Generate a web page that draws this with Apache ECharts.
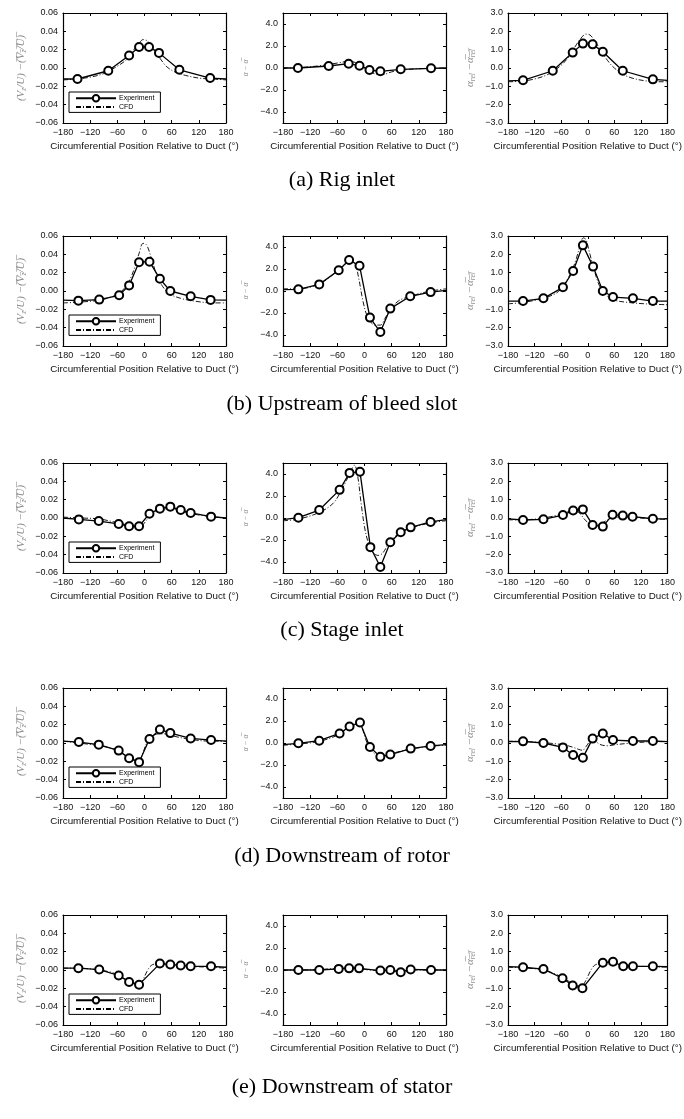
<!DOCTYPE html>
<html>
<head>
<meta charset="utf-8">
<script src="https://cdn.jsdelivr.net/npm/echarts@6/dist/echarts.min.js"></script>
<style>
  html, body { margin: 0; padding: 0; background: #fff; }
  #chart { width: 684px; height: 1119px; }
</style>
</head>
<body>
<div id="chart"></div>
<script>
// Circumferential distortion profiles, five axial stations x three quantities.
// Each experiment array holds [angle (deg), value]; entries at +/-180 are the
// wrap-around ends of the line and carry no marker.

const captions = ['(a) Rig inlet', '(b) Upstream of bleed slot', '(c) Stage inlet',
                  '(d) Downstream of rotor', '(e) Downstream of stator'];
const xTicks = [-180, -120, -60, 0, 60, 120, 180];
const alphaTicks = [-4, -2, 0, 2, 4];

// (a) Rig inlet
const expA_vz = [[-180,-0.012],[-148,-0.012],[-80,-0.003],[-34,0.0136],[-12,0.023],[10,0.023],[32,0.0165],[77,-0.002],[145,-0.011],[180,-0.012]];
const cfdA_vz = [[-180,-0.013],[-150,-0.012],[-120,-0.010],[-90,-0.006],[-60,0.002],[-40,0.009],[-25,0.019],[-12,0.027],[-3,0.031],[8,0.029],[20,0.021],[35,0.010],[50,0.001],[70,-0.005],[90,-0.008],[120,-0.011],[150,-0.012],[180,-0.013]];
const expA_al = [[-180,0.0],[-147,0.0],[-79,0.18],[-35,0.39],[-11,0.21],[11,-0.18],[35,-0.3],[80,-0.12],[147,-0.03],[180,0.0]];
const cfdA_al = [[-180,0.0],[-140,0.05],[-100,0.2],[-60,0.45],[-35,0.6],[-20,0.5],[-5,0.2],[10,-0.25],[25,-0.55],[40,-0.6],[60,-0.35],[90,-0.15],[130,-0.05],[180,0.0]];
const expA_ar = [[-180,-0.7],[-146,-0.67],[-79,-0.15],[-34,0.84],[-11,1.33],[11,1.29],[34,0.89],[79,-0.15],[147,-0.62],[180,-0.68]];
const cfdA_ar = [[-180,-0.75],[-150,-0.72],[-120,-0.6],[-90,-0.35],[-60,0.15],[-40,0.7],[-25,1.3],[-12,1.72],[-5,1.85],[5,1.8],[15,1.5],[30,0.95],[45,0.4],[60,0.0],[80,-0.35],[100,-0.55],[130,-0.7],[160,-0.75],[180,-0.75]];

// (b) Upstream of bleed slot
const expB_vz = [[-180,-0.010],[-146,-0.0105],[-100,-0.0094],[-56,-0.0047],[-34,0.0061],[-12,0.0314],[11,0.032],[34,0.0133],[57,0.0],[102,-0.0058],[146,-0.0097],[180,-0.010]];
const cfdB_vz = [[-180,-0.013],[-140,-0.012],[-100,-0.010],[-70,-0.006],[-50,0.0],[-35,0.01],[-22,0.025],[-12,0.041],[-3,0.052],[5,0.050],[15,0.036],[28,0.016],[40,0.005],[55,-0.003],[80,-0.008],[110,-0.011],[150,-0.013],[180,-0.013]];
const expB_al = [[-180,0.12],[-146,0.15],[-100,0.6],[-57,1.88],[-34,2.82],[-11,2.3],[12,-2.42],[35,-3.73],[57,-1.6],[101,-0.48],[146,-0.1],[180,0.05]];
const cfdB_al = [[-180,0.2],[-146,0.2],[-100,0.65],[-60,1.8],[-40,2.5],[-28,2.75],[-20,2.4],[-12,1.0],[-4,-0.8],[5,-2.2],[15,-2.9],[25,-3.1],[35,-3.1],[45,-2.5],[57,-1.7],[75,-0.9],[100,-0.5],[140,-0.05],[180,0.2]];
const expB_ar = [[-180,-0.55],[-146,-0.55],[-100,-0.4],[-56,0.2],[-33,1.09],[-11,2.49],[12,1.33],[34,0.0],[57,-0.33],[102,-0.4],[147,-0.55],[180,-0.55]];
const cfdB_ar = [[-180,-0.7],[-146,-0.62],[-100,-0.4],[-70,-0.1],[-56,0.25],[-40,0.9],[-28,1.6],[-18,2.4],[-10,2.9],[-4,2.8],[5,2.0],[15,1.1],[28,0.2],[45,-0.3],[60,-0.5],[90,-0.62],[130,-0.7],[180,-0.75]];

// (c) Stage inlet
const expC_vz = [[-180,0.0],[-145,-0.0015],[-101,-0.0033],[-57,-0.0065],[-34,-0.009],[-12,-0.009],[11,0.0047],[34,0.0102],[57,0.0124],[80,0.0087],[102,0.0055],[147,0.0015],[180,0.0]];
const cfdC_vz = [[-180,0.001],[-140,0.0],[-100,-0.001],[-70,-0.004],[-50,-0.006],[-30,-0.009],[-15,-0.010],[-5,-0.008],[5,-0.002],[15,0.004],[30,0.008],[50,0.010],[70,0.009],[100,0.005],[140,0.002],[180,0.0]];
const expC_al = [[-180,-0.15],[-146,0.03],[-100,0.72],[-55,2.56],[-33,4.1],[-10,4.2],[13,-2.65],[35,-4.45],[57,-2.2],[80,-1.3],[102,-0.85],[146,-0.36],[180,-0.15]];
const cfdC_al = [[-180,-0.25],[-146,-0.1],[-100,0.5],[-70,1.3],[-55,2.2],[-40,3.4],[-30,4.3],[-22,4.8],[-15,3.8],[-8,1.5],[0,-0.8],[8,-2.2],[18,-3.1],[30,-3.4],[40,-3.2],[57,-2.1],[80,-1.3],[102,-0.9],[146,-0.45],[180,-0.25]];
const expC_ar = [[-180,-0.05],[-146,-0.11],[-100,-0.07],[-56,0.16],[-33,0.41],[-11,0.47],[11,-0.38],[34,-0.47],[56,0.18],[79,0.13],[101,0.07],[147,-0.04],[180,-0.05]];
const cfdC_ar = [[-180,-0.1],[-146,-0.1],[-100,0.0],[-70,0.15],[-50,0.3],[-33,0.4],[-20,0.3],[-8,-0.05],[3,-0.3],[15,-0.38],[30,-0.3],[45,-0.1],[60,0.05],[85,0.05],[120,0.0],[150,-0.05],[180,-0.08]];

// (d) Downstream of rotor
const expD_vz = [[-180,0.002],[-145,0.001],[-101,-0.0018],[-57,-0.0083],[-34,-0.0166],[-12,-0.0209],[11,0.0043],[34,0.0148],[57,0.0108],[102,0.005],[147,0.0032],[180,0.002]];
const cfdD_vz = [[-180,0.002],[-145,0.0],[-100,-0.003],[-70,-0.006],[-57,-0.009],[-40,-0.014],[-25,-0.018],[-12,-0.019],[-3,-0.01],[5,0.0],[15,0.006],[30,0.010],[45,0.010],[60,0.008],[100,0.004],[147,0.002],[180,0.002]];
const expD_al = [[-180,-0.15],[-146,-0.03],[-100,0.21],[-55,0.87],[-33,1.5],[-10,1.86],[12,-0.36],[35,-1.26],[57,-1.05],[102,-0.51],[146,-0.27],[180,-0.15]];
const cfdD_al = [[-180,-0.2],[-146,-0.1],[-100,0.15],[-60,0.7],[-40,1.25],[-25,1.7],[-14,2.0],[-6,1.5],[2,0.4],[12,-0.5],[25,-1.05],[38,-1.2],[55,-1.0],[80,-0.75],[102,-0.55],[146,-0.3],[180,-0.2]];
const expD_ar = [[-180,0.08],[-146,0.09],[-100,0.0],[-56,-0.24],[-33,-0.65],[-11,-0.8],[11,0.24],[34,0.52],[57,0.16],[102,0.11],[147,0.11],[180,0.08]];
const cfdD_ar = [[-180,0.1],[-146,0.08],[-100,0.02],[-70,-0.05],[-50,-0.12],[-35,-0.22],[-20,-0.35],[-12,-0.4],[-4,-0.2],[5,0.1],[12,0.22],[20,0.05],[30,-0.1],[45,-0.15],[60,-0.1],[90,-0.02],[130,0.05],[180,0.08]];

// (e) Downstream of stator
const expE_vz = [[-180,0.002],[-146,0.002],[-100,0.0005],[-57,-0.006],[-34,-0.013],[-12,-0.016],[34,0.007],[57,0.006],[80,0.005],[102,0.004],[147,0.004],[180,0.003]];
const cfdE_vz = [[-180,0.002],[-146,0.002],[-100,0.0],[-70,-0.003],[-50,-0.008],[-30,-0.013],[-15,-0.016],[-5,-0.012],[5,-0.002],[15,0.005],[30,0.007],[60,0.006],[100,0.004],[147,0.003],[180,0.002]];
const expE_al = [[-180,0.0],[-146,0.0],[-100,0.0],[-57,0.1],[-34,0.15],[-12,0.15],[35,-0.05],[57,0.0],[80,-0.2],[102,0.05],[147,0.0],[180,0.0]];
const cfdE_al = [[-180,0.0],[-146,0.0],[-100,0.05],[-57,0.15],[-34,0.2],[-12,0.15],[10,0.0],[35,-0.05],[57,-0.05],[80,-0.1],[102,0.0],[147,0.0],[180,0.0]];
const expE_ar = [[-180,0.18],[-146,0.15],[-100,0.05],[-57,-0.45],[-34,-0.85],[-12,-1.0],[34,0.4],[57,0.45],[80,0.2],[102,0.2],[147,0.2],[180,0.18]];
const cfdE_ar = [[-180,0.15],[-146,0.12],[-100,0.0],[-70,-0.25],[-50,-0.5],[-34,-0.75],[-15,-0.9],[-5,-0.6],[5,-0.1],[15,0.25],[30,0.35],[57,0.3],[80,0.25],[120,0.2],[180,0.15]];

const panels = [
  [[expA_vz, cfdA_vz], [expA_al, cfdA_al], [expA_ar, cfdA_ar]],
  [[expB_vz, cfdB_vz], [expB_al, cfdB_al], [expB_ar, cfdB_ar]],
  [[expC_vz, cfdC_vz], [expC_al, cfdC_al], [expC_ar, cfdC_ar]],
  [[expD_vz, cfdD_vz], [expD_al, cfdD_al], [expD_ar, cfdD_ar]],
  [[expE_vz, cfdE_vz], [expE_al, cfdE_al], [expE_ar, cfdE_ar]]
];

// ---- layout ----
const rowTops = [13, 236, 463, 688, 915];
const captionY = [182, 406, 632, 858, 1089];
const colLefts = [63, 283, 508];
const plotW = 163, plotH = 110;
const captionSize = 22;

const SANS = 'Liberation Sans';
const minus = s => String(s).replace('-', '\u2212');
const over = s => s.split('').map(c => c + '\u0305').join('');

const nameRich = {
  i: { fontFamily: 'Liberation Serif', fontStyle: 'italic', fontSize: 11, color: '#8a8a8a', lineHeight: 14 },
  s: { fontFamily: 'Liberation Serif', fontStyle: 'italic', fontSize: 7.5, color: '#8a8a8a', verticalAlign: 'bottom', lineHeight: 14 },
  t: { fontFamily: 'Liberation Serif', fontStyle: 'italic', fontSize: 7.5, color: '#8a8a8a', lineHeight: 10 }
};

const yNames = [
  '{i|(V}{s|z}{i|/U) \u2212' + over('(V') + '}{s|' + over('z') + '}{i|' + over('/U)') + '}',
  '{t|\u03b1 \u2212 ' + over('\u03b1') + '}',
  '{i|\u03b1}{s|rel}{i| \u2212' + over('\u03b1') + '}{s|' + over('rel') + '}'
];
const yNameGap = [35, 32, 31];

const yCfg = [
  { min: -0.06, max: 0.06, interval: 0.02, fmt: v => minus(v.toFixed(2)) },
  { min: -5, max: 5, custom: alphaTicks, fmt: v => minus(v.toFixed(1)) },
  { min: -3, max: 3, interval: 1, fmt: v => minus(v.toFixed(1)) }
];

const grid = [], xAxis = [], yAxis = [], series = [], legend = [], title = [];
const tickStyle = { show: true, inside: true, length: 3, lineStyle: { color: '#000', width: 1 } };
const axisLineStyle = { show: true, onZero: false, lineStyle: { color: '#000', width: 1.2 } };

for (let r = 0; r < 5; r++) {
  title.push({
    text: captions[r], left: 'center', top: captionY[r] - Math.round(captionSize * 0.58), padding: 0,
    textStyle: { fontFamily: 'Liberation Serif', fontSize: captionSize, fontWeight: 'normal', color: '#000' }
  });
  for (let c = 0; c < 3; c++) {
    const g = grid.length;
    grid.push({ left: colLefts[c], top: rowTops[r], width: plotW, height: plotH, containLabel: false });
    // bottom x axis with labels, top mirror with ticks only
    xAxis.push({
      type: 'value', gridIndex: g, min: -180, max: 180, interval: 60, position: 'bottom',
      axisLine: axisLineStyle, axisTick: tickStyle, splitLine: { show: false },
      axisLabel: { margin: 5, fontFamily: SANS, fontSize: 9, color: '#111', formatter: v => minus(v) },
      name: 'Circumferential Position Relative to Duct (\u00b0)', nameLocation: 'middle', nameGap: 18,
      nameTextStyle: { fontFamily: SANS, fontSize: 9.8, color: '#111' }
    });
    xAxis.push({
      type: 'value', gridIndex: g, min: -180, max: 180, interval: 60, position: 'top',
      axisLine: axisLineStyle, axisTick: tickStyle, axisLabel: { show: false }, splitLine: { show: false }
    });
    const yc = yCfg[c];
    const yLeft = {
      type: 'value', gridIndex: g, min: yc.min, max: yc.max, position: 'left',
      axisLine: axisLineStyle, axisTick: Object.assign({}, tickStyle), splitLine: { show: false },
      axisLabel: { margin: 5, fontFamily: SANS, fontSize: 9, color: '#111', formatter: yc.fmt },
      name: yNames[c], nameLocation: 'middle', nameGap: yNameGap[c], nameRotate: 90,
      nameTextStyle: { rich: nameRich }
    };
    const yRight = {
      type: 'value', gridIndex: g, min: yc.min, max: yc.max, position: 'right',
      axisLine: axisLineStyle, axisTick: Object.assign({}, tickStyle), axisLabel: { show: false },
      splitLine: { show: false }
    };
    if (yc.custom) {
      yLeft.axisLabel.customValues = yc.custom;
      yLeft.axisTick.customValues = yc.custom;
      yRight.axisTick.customValues = yc.custom;
    } else {
      yLeft.interval = yc.interval;
      yRight.interval = yc.interval;
    }
    yAxis.push(yLeft, yRight);

    const [exp, cfd] = panels[r][c];
    series.push({
      name: 'CFD', type: 'line', xAxisIndex: 2 * g, yAxisIndex: 2 * g,
      data: cfd, smooth: 0.35, showSymbol: false, symbol: 'none',
      lineStyle: { color: '#000', width: 0.9, type: [5, 2, 1, 2] }, itemStyle: { color: '#000' },
      z: 2, silent: true
    });
    series.push({
      name: 'Experiment', type: 'line', xAxisIndex: 2 * g, yAxisIndex: 2 * g,
      data: exp.map(p => Math.abs(p[0]) === 180 ? { value: p, symbol: 'none' } : p),
      symbol: 'emptyCircle', symbolSize: 8,
      lineStyle: { color: '#000', width: 1.3 },
      itemStyle: { color: '#000', borderColor: '#000', borderWidth: 1.3 },
      z: 3, silent: true
    });
  }
  legend.push({
    data: [
      { name: 'Experiment' },
      { name: 'CFD', itemStyle: { color: 'rgba(0,0,0,0)', borderColor: 'rgba(0,0,0,0)', borderWidth: 0, opacity: 0 } }
    ],
    orient: 'vertical', left: 69, top: rowTops[r] + 79,
    itemWidth: 40, itemHeight: 8, itemGap: 1, padding: [2, 6, 2, 6],
    borderColor: '#000', borderWidth: 1, backgroundColor: '#fff',
    textStyle: { fontFamily: SANS, fontSize: 7, color: '#000', padding: [0, 0, 0, -2] },
    selectedMode: false
  });
}

const chart = echarts.init(document.getElementById('chart'), null, { renderer: 'canvas' });
chart.setOption({
  animation: false,
  backgroundColor: '#fff',
  title, grid, xAxis, yAxis, series, legend
});
</script>
</body>
</html>
